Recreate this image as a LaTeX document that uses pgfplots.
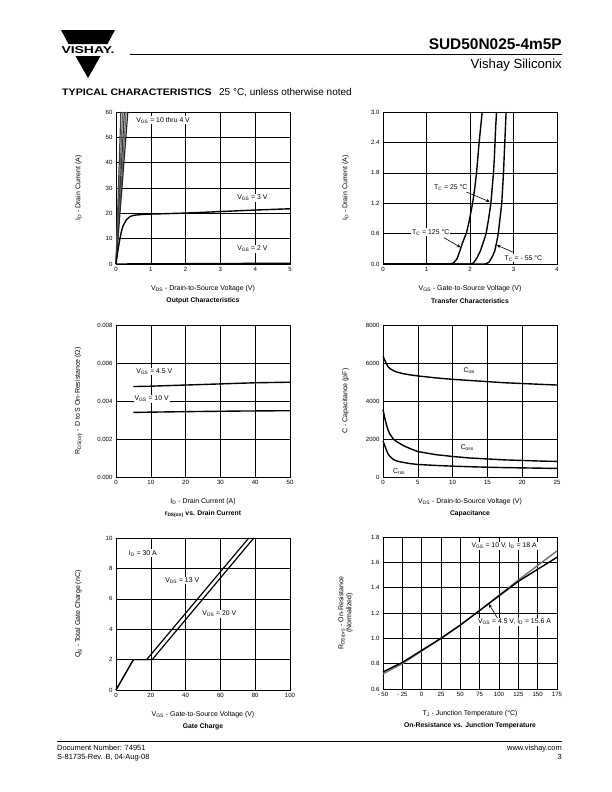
\documentclass[border=0pt]{standalone}
\usepackage{fontspec}
\setmainfont{Liberation Sans}
\usepackage{pgfplots}
\pgfplotsset{compat=1.18}
\newcommand{\sub}[1]{\textsubscript{#1}}
\tikzset{
  lbl/.style={fill=white, inner sep=1pt, anchor=west, font=\fontsize{6.9}{8}\selectfont},
  ttl/.style={font=\bfseries\fontsize{6.8}{8}\selectfont},
  arr/.style={-stealth, line width=0.6pt},
}
\pgfplotsset{
  ds/.style={
    scale only axis, width=174bp, height=152bp, anchor=north west,
    clip=false,
    axis line style={line width=0.9pt},
    grid=major,
    major grid style={black, line width=0.6pt},
    major tick length=0pt,
    tick style={draw=none},
    scaled ticks=false,
    cycle list={{black}},
    ticklabel style={font=\fontsize{6.1}{7}\selectfont},
    every axis x label/.style={at={(axis description cs:0.5,-0.165)}, anchor=center,
      font=\fontsize{7}{8}\selectfont},
    every axis y label/.style={at={(axis description cs:-0.215,0.5)}, anchor=center,
      rotate=90, align=center, font=\fontsize{7}{8}\selectfont},
    every axis plot/.append style={line width=1.4pt, black, no marks, line join=round},
  },
}
\begin{document}
\begin{tikzpicture}
\fill[white] (0,0) rectangle (612bp,-792bp);

% header
\fill (61bp,-30bp) -- (115bp,-30bp) -- (107.5bp,-44bp) -- (68.5bp,-44bp) -- cycle;
\fill (75.5bp,-56bp) -- (100.5bp,-56bp) -- (88bp,-78bp) -- cycle;
\node[anchor=base, inner sep=0, xscale=1.4, font=\bfseries\fontsize{10}{10}\selectfont] at (88bp,-53.5bp) {VISHAY.};
\draw[line width=0.9pt] (130bp,-54.5bp) -- (562bp,-54.5bp);
\node[anchor=base east, inner sep=0, font=\bfseries\fontsize{15.5}{16}\selectfont] at (562bp,-49.5bp) {SUD50N025-4m5P};
\node[anchor=base east, inner sep=0, font=\fontsize{13.2}{14}\selectfont] at (562bp,-68bp) {Vishay Siliconix};
\node[anchor=base west, inner sep=0, xscale=1.12, font=\bfseries\fontsize{9.5}{10}\selectfont] at (62bp,-95bp) {TYPICAL CHARACTERISTICS};
\node[anchor=base west, inner sep=0, font=\fontsize{10}{11}\selectfont] at (219bp,-95bp) {25 °C, unless otherwise noted};

% footer
\draw[line width=0.8pt] (57bp,-741bp) -- (562bp,-741bp);
\node[anchor=base west, inner sep=0, font=\fontsize{7.5}{8}\selectfont] at (57bp,-750bp) {Document Number: 74951};
\node[anchor=base west, inner sep=0, font=\fontsize{7.5}{8}\selectfont] at (57bp,-759bp) {S-81735-Rev. B, 04-Aug-08};
\node[anchor=base east, inner sep=0, font=\fontsize{7.5}{8}\selectfont] at (562bp,-750bp) {www.vishay.com};
\node[anchor=base east, inner sep=0, font=\fontsize{7.5}{8}\selectfont] at (562bp,-759bp) {3};

% output characteristics
\begin{axis}[ds, at={(116bp,-112bp)},
  xmin=0, xmax=5, ymin=0, ymax=60,
  xtick={0,1,2,3,4,5}, xticklabels={0,1,2,3,4,5},
  ytick={0,10,20,30,40,50,60}, yticklabels={0,10,20,30,40,50,60},
  xlabel={V\sub{DS} - Drain-to-Source Voltage (V)},
  ylabel={I\sub{D} - Drain Current (A)}]
\addplot[black!75, line width=1.2pt] coordinates {(0,0) (0.14,60)};
\addplot[black!60, line width=1.2pt] coordinates {(0,0) (0.19,60)};
\addplot[black!80, line width=1.2pt] coordinates {(0,0) (0.24,60)};
\addplot[black!60, line width=1.2pt] coordinates {(0,0) (0.29,60)};
\addplot[black!85, line width=1.2pt] coordinates {(0,0) (0.34,60)};
\addplot coordinates {(0,0) (0.05,5) (0.1,9) (0.15,12.5) (0.2,15) (0.3,17.5) (0.4,18.7) (0.5,19.2) (0.7,19.5) (1,19.7) (2,20.1) (3,20.7) (4,21.3) (5,21.8)};
\addplot coordinates {(0,0) (5,0.3)};
\node[lbl] at (axis cs:0.55,56.8) {V\sub{GS} = 10 thru 4 V};
\node[lbl] at (axis cs:3.45,26.2) {V\sub{GS} = 3 V};
\node[lbl] at (axis cs:3.45,5.9) {V\sub{GS} = 2 V};
\node[ttl] at (axis description cs:0.5,-0.243) {Output Characteristics};
\end{axis}

% transfer characteristics
\begin{axis}[ds, at={(383bp,-112bp)},
  xmin=0, xmax=4, ymin=0, ymax=3,
  xtick={0,1,2,3,4}, xticklabels={0,1,2,3,4},
  ytick={0,0.6,1.2,1.8,2.4,3.0}, yticklabels={0.0,0.6,1.2,1.8,2.4,3.0},
  xlabel={V\sub{GS} - Gate-to-Source Voltage (V)},
  ylabel={I\sub{D} - Drain Current (A)}]
\addplot coordinates {(0,0) (1.55,0) (1.62,0.02) (1.70,0.10) (1.76,0.24) (1.82,0.40) (1.87,0.51) (1.92,0.62) (1.98,0.84) (2.02,1.02) (2.06,1.20) (2.11,1.50) (2.15,1.80) (2.18,2.10) (2.21,2.40) (2.245,2.70) (2.28,3.0)};
\addplot coordinates {(0,0) (2.02,0) (2.08,0.02) (2.16,0.12) (2.24,0.26) (2.31,0.44) (2.37,0.60) (2.43,0.90) (2.48,1.20) (2.51,1.50) (2.54,1.80) (2.56,2.10) (2.575,2.40) (2.59,2.70) (2.61,3.0)};
\addplot coordinates {(0,0) (2.35,0) (2.43,0.03) (2.51,0.14) (2.57,0.26) (2.61,0.42) (2.65,0.60) (2.69,0.90) (2.73,1.20) (2.75,1.50) (2.77,1.80) (2.785,2.10) (2.80,2.40) (2.815,2.70) (2.83,3.0)};
\node[lbl, anchor=center] at (axis cs:1.556,1.506) {T\sub{C} = 25 °C};
\draw[arr] (axis cs:1.92,1.42) -- (axis cs:2.45,1.23);
\node[lbl, anchor=center] at (axis cs:1.096,0.626) {T\sub{C} = 125 °C};
\draw[arr] (axis cs:1.40,0.52) -- (axis cs:1.78,0.33);
\node[lbl, anchor=center] at (axis cs:3.226,0.112) {T\sub{C} = - 55 °C};
\draw[arr] (axis cs:3.0,0.23) -- (axis cs:2.62,0.37);
\node[ttl] at (axis description cs:0.5,-0.243) {Transfer Characteristics};
\end{axis}

% on-resistance vs drain current
\begin{axis}[ds, at={(116bp,-325bp)},
  xmin=0, xmax=50, ymin=0, ymax=0.008,
  xtick={0,10,20,30,40,50}, xticklabels={0,10,20,30,40,50},
  ytick={0,0.002,0.004,0.006,0.008}, yticklabels={0.000,0.002,0.004,0.006,0.008},
  xlabel={I\sub{D} - Drain Current (A)},
  ylabel={R\sub{DS(on)} - D to S On-Resistance (Ω)}]
\addplot coordinates {(5,0.00476) (10,0.00478) (20,0.00484) (30,0.00490) (40,0.00496) (50,0.00499)};
\addplot coordinates {(5,0.00340) (20,0.00344) (35,0.00347) (50,0.00349)};
\node[lbl] at (axis cs:5.5,0.00555) {V\sub{GS} = 4.5 V};
\node[lbl] at (axis cs:5.0,0.0041) {V\sub{GS} = 10 V};
\node[ttl] at (axis description cs:0.5,-0.243) {r\sub{DS(on)} vs. Drain Current};
\end{axis}

% capacitance
\begin{axis}[ds, at={(383bp,-325bp)},
  xmin=0, xmax=25, ymin=0, ymax=8000,
  xtick={0,5,10,15,20,25}, xticklabels={0,5,10,15,20,25},
  ytick={0,2000,4000,6000,8000}, yticklabels={0,2000,4000,6000,8000},
  xlabel={V\sub{DS} - Drain-to-Source Voltage (V)},
  ylabel={C - Capacitance (pF)}]
\addplot coordinates {(0,6350) (0.25,6150) (0.5,5950) (0.75,5800) (1,5700) (1.5,5600) (2,5520) (3,5430) (4,5370) (5,5320) (7.5,5220) (10,5140) (12.5,5080) (15,5020) (17.5,4960) (20,4920) (22.5,4880) (25,4840)};
\addplot coordinates {(0,3550) (0.25,3100) (0.5,2750) (0.75,2450) (1,2250) (1.5,2000) (2,1850) (3,1640) (4,1480) (5,1340) (7.5,1180) (10,1080) (12.5,1000) (15,950) (17.5,900) (20,870) (22.5,840) (25,820)};
\addplot coordinates {(0,1900) (0.25,1650) (0.5,1400) (0.75,1200) (1,1080) (1.5,920) (2,840) (3,760) (4,700) (5,660) (7.5,610) (10,570) (12.5,540) (15,515) (17.5,495) (20,480) (22.5,465) (25,450)};
\node[lbl, fill=none] at (axis cs:11.4,5620) {C\sub{iss}};
\node[lbl, fill=none] at (axis cs:11.0,1530) {C\sub{oss}};
\node[lbl, fill=none] at (axis cs:1.3,300) {C\sub{rss}};
\node[ttl] at (axis description cs:0.5,-0.243) {Capacitance};
\end{axis}

% gate charge
\begin{axis}[ds, at={(116bp,-538bp)},
  xmin=0, xmax=100, ymin=0, ymax=10,
  xtick={0,20,40,60,80,100}, xticklabels={0,20,40,60,80,100},
  ytick={0,2,4,6,8,10}, yticklabels={0,2,4,6,8,10},
  xlabel={V\sub{GS} -  Gate-to-Source Voltage (V)},
  ylabel={Q\sub{g} - Total Gate Charge (nC)}]
\addplot[line width=1.2pt] coordinates {(0,0) (10,2) (17.6,2) (76.3,10)};
\addplot[line width=1.2pt] coordinates {(0,0) (10,2) (20.8,2) (79.2,10)};
\node[lbl] at (axis cs:6.7,9.0) {I\sub{D} = 30 A};
\node[lbl] at (axis cs:27.7,7.2) {V\sub{DS} = 13 V};
\node[lbl] at (axis cs:49,5.0) {V\sub{DS} = 20 V};
\node[ttl] at (axis description cs:0.5,-0.243) {Gate Charge};
\end{axis}

% on-resistance vs junction temperature
\begin{axis}[ds, at={(383bp,-537bp)},
  xmin=-50, xmax=175, ymin=0.6, ymax=1.8,
  xtick={-50,-25,0,25,50,75,100,125,150,175},
  xticklabels={- 50,- 25,0,25,50,75,100,125,150,175},
  ytick={0.6,0.8,1.0,1.2,1.4,1.6,1.8}, yticklabels={0.6,0.8,1.0,1.2,1.4,1.6,1.8},
  xlabel={T\sub{J} - Junction Temperature (°C)},
  ylabel={R\sub{DS(on)} - On-Resistance\\(Normalized)}]
\addplot[black!55] coordinates {(-50,0.72) (-25,0.80) (0,0.90) (25,1.0) (50,1.105) (75,1.22) (100,1.34) (125,1.46) (150,1.575) (175,1.69)};
\addplot coordinates {(-50,0.735) (-25,0.81) (0,0.905) (25,1.0) (50,1.105) (75,1.22) (100,1.335) (125,1.45) (150,1.545) (175,1.64)};
\node[lbl] at (axis cs:63,1.73) {V\sub{GS} = 10 V, I\sub{D} = 18 A};
\node[lbl] at (axis cs:71.5,1.13) {V\sub{GS} = 4.5 V, I\sub{D} = 15.6 A};
\draw[arr] (axis cs:98,1.16) -- (axis cs:87,1.27);
\node[ttl] at (axis description cs:0.5,-0.243) {On-Resistance vs. Junction Temperature};
\end{axis}
\end{tikzpicture}
\end{document}
